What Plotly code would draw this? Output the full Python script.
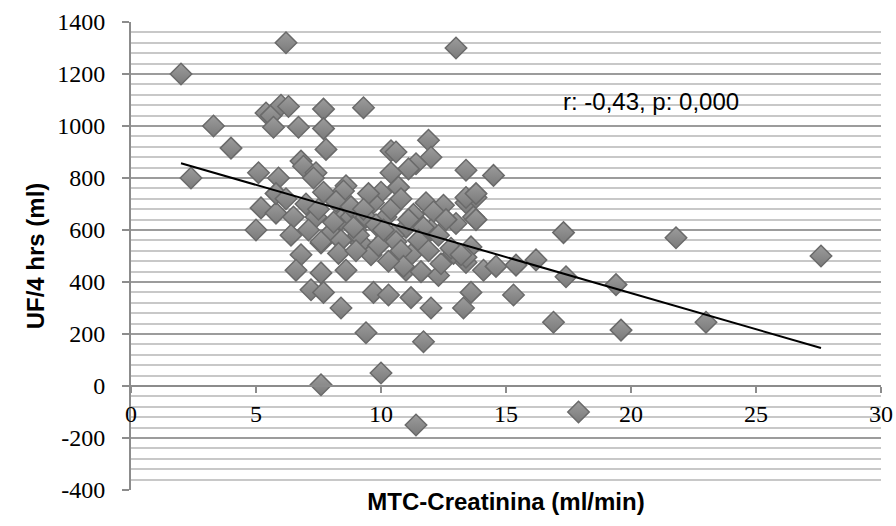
import plotly.graph_objects as go

# MTC-Creatinina (ml/min)
mtc = [2.0, 2.4, 3.3, 4.0, 6.2, 13.0, 5.4, 5.6, 6.0, 6.3, 5.7, 6.7, 7.7, 7.7, 7.8, 9.3,
       5.1, 5.9, 6.8, 6.9, 7.4, 7.3, 7.7, 8.6, 8.5, 10.4, 10.6, 11.9, 12.0, 11.4, 11.1,
       13.4, 14.5, 10.4, 10.7, 10.0, 5.2, 5.0, 5.8, 5.8, 6.5, 6.4, 6.8, 6.6, 7.6, 7.6,
       7.2, 7.7, 7.6, 7.4, 8.4, 9.7, 10.2, 11.0, 8.0, 13.0, 13.7, 11.8, 12.5, 13.4, 13.8,
       12.1, 13.4, 13.8, 13.8, 7.6, 8.4, 9.2, 9.6, 10.2, 10.8, 11.2, 11.0, 12.3, 12.9,
       13.4, 8.6, 8.4, 9.7, 10.3, 11.2, 12.0, 13.3, 13.6, 9.4, 11.7, 10.0, 11.4, 13.6,
       13.4, 14.1, 14.6, 15.4, 16.2, 17.3, 17.4, 19.4, 15.3, 16.9, 19.6, 17.9, 21.8,
       23.0, 27.6,
       7.0, 7.5, 8.2, 8.8, 9.0, 9.1, 9.4, 9.8, 10.4, 10.8, 10.5, 10.6, 10.8, 11.3, 11.1,
       12.0, 12.3, 11.7, 12.8, 13.2, 11.6, 10.9, 8.3, 9.9, 9.0, 8.8, 11.5, 12.6, 6.2,
       7.1, 8.1, 9.5, 10.1, 11.9, 12.4, 10.3, 8.9, 9.3]
# UF/4 hrs (ml)
uf = [1200, 800, 1000, 915, 1320, 1300, 1050, 1040, 1080, 1075, 995, 995, 1065, 990, 910, 1070,
      820, 800, 865, 845, 820, 800, 745, 770, 750, 905, 900, 945, 880, 855, 835,
      830, 810, 820, 765, 745, 685, 600, 665, 740, 650, 580, 505, 445, 550, 435,
      370, 360, 5, 650, 640, 705, 650, 610, 590, 625, 650, 705, 695, 705, 725,
      670, 725, 740, 640, 555, 560, 550, 505, 570, 485, 505, 445, 425, 510,
      475, 445, 300, 360, 350, 340, 300, 300, 360, 205, 170, 50, -150, 535,
      495, 445, 460, 465, 485, 590, 420, 390, 350, 245, 215, -100, 570,
      245, 500,
      700, 680, 710, 650, 600, 580, 650, 620, 680, 720, 580, 555, 520, 660, 640,
      600, 580, 610, 530, 505, 440, 460, 510, 540, 520, 690, 560, 640, 720,
      600, 630, 740, 600, 520, 470, 480, 610, 680]

# linear trend line (endpoints)
trend_x = [2.0, 27.6]
trend_y = [857, 146]

x_ticks = [0, 5, 10, 15, 20, 25, 30]
y_ticks = [-400, -200, 0, 200, 400, 600, 800, 1000, 1200, 1400]

SERIF = "Liberation Serif"
SANS = "Liberation Sans"
TICK_STYLE = "font-family:Liberation Serif;font-size:24px;color:black"


def tick_label(v):
    return f"<span style='{TICK_STYLE}'>{v}</span>"


fig = go.Figure()
fig.add_trace(go.Scatter(
    x=mtc, y=uf, mode="markers", xaxis="x", yaxis="y",
    marker=dict(symbol="diamond", size=16.5, color="#9c9c9c",
                gradient=dict(type="vertical", color="#7a7a7a"),
                line=dict(color="#6a6a6a", width=1.5)),
    showlegend=False, hoverinfo="x+y"))
fig.add_trace(go.Scatter(
    x=trend_x, y=trend_y, mode="lines", xaxis="x2", yaxis="y",
    line=dict(color="black", width=2), showlegend=False, hoverinfo="skip"))

fig.add_annotation(text="r: -0,43, p: 0,000", x=20.8, y=1096, xref="x", yref="y",
                   showarrow=False, font=dict(family=SANS, size=24, color="black"))

fig.update_layout(
    template="none",
    width=896, height=526,
    margin=dict(l=131, r=15, t=22, b=36, autoexpand=False),
    paper_bgcolor="white", plot_bgcolor="white",
    font=dict(family=SERIF, size=24, color="black"),
    xaxis=dict(range=[0, 30], showgrid=False, zeroline=False, showline=False,
               showticklabels=False, ticks="",
               title=dict(text="<b>MTC-Creatinina (ml/min)</b>", standoff=3,
                          font=dict(family=SANS, size=24, color="black"))),
    xaxis2=dict(range=[0, 30], overlaying="x", anchor="free", position=400/1800,
                side="bottom", tickvals=x_ticks, ticktext=[tick_label(v) for v in x_ticks],
                ticks="outside", ticklen=6, tickwidth=1.5, tickcolor="#8c8c8c",
                showline=True, linecolor="#8c8c8c", linewidth=2,
                showgrid=False, zeroline=False,
                tickfont=dict(family=SERIF, size=24, color="black")),
    yaxis=dict(range=[-400, 1400], tickvals=y_ticks, ticktext=[tick_label(v) for v in y_ticks],
               ticks="outside", ticklen=7, tickwidth=1.5, tickcolor="#8c8c8c",
               showline=True, linecolor="#8c8c8c", linewidth=2,
               showgrid=True, gridcolor="#9c9c9c", gridwidth=1.5, zeroline=False,
               minor=dict(dtick=40, showgrid=True, gridcolor="#c8c8c8", gridwidth=1.5, ticks=""),
               ticklabelstandoff=12,
               tickfont=dict(family=SERIF, size=24, color="black"),
               title=dict(text="<b>UF/4 hrs (ml)</b>", standoff=6,
                          font=dict(family=SANS, size=24, color="black"))),
)

fig.write_html("out.html")
